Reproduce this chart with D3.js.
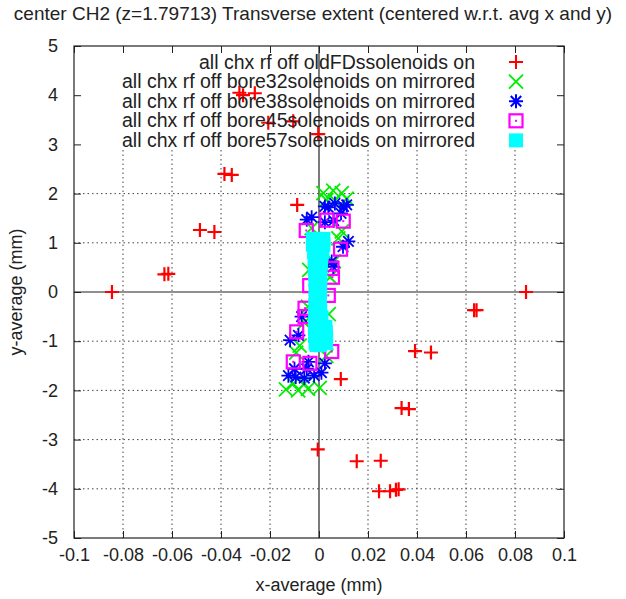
<!DOCTYPE html>
<html>
<head>
<meta charset="utf-8">
<script src="https://cdn.jsdelivr.net/npm/d3@7"></script>
<style>
  body { margin: 0; background: #fff; }
  text { font-family: "Liberation Sans", Arial, sans-serif; fill: #222; }
</style>
</head>
<body>
<div id="chart-area"></div>
<script>
// center CH2 transverse extent, gnuplot style scatter

var xTicks = [-0.1, -0.08, -0.06, -0.04, -0.02, 0, 0.02, 0.04, 0.06, 0.08, 0.1];
var xTickLabels = ["-0.1", "-0.08", "-0.06", "-0.04", "-0.02", "0", "0.02", "0.04", "0.06", "0.08", "0.1"];
var yTicks = [-5, -4, -3, -2, -1, 0, 1, 2, 3, 4, 5];

var seriesNames = [
  "all chx rf off oldFDssolenoids on",
  "all chx rf off bore32solenoids on mirrored",
  "all chx rf off bore38solenoids on mirrored",
  "all chx rf off bore45solenoids on mirrored",
  "all chx rf off bore57solenoids on mirrored"
];

// [x, y] in mm
var oldFD = [
  [-0.0845, 0.0], [-0.0631, 0.36], [-0.0615, 0.37], [-0.0486, 1.26], [-0.0427, 1.22],
  [-0.0386, 2.40], [-0.0356, 2.38], [-0.0325, 4.05], [-0.0310, 4.00], [-0.0262, 4.04],
  [-0.0207, 3.44], [-0.0105, 3.47], [-0.0003, 3.21], [-0.0089, 1.77],
  [0.0845, 0.0], [0.0633, -0.37], [0.0643, -0.37], [0.0392, -1.20], [0.0457, -1.23],
  [0.0089, -1.77], [0.0337, -2.36], [0.0367, -2.38], [-0.0005, -3.20],
  [0.0154, -3.44], [0.0252, -3.43], [0.0245, -4.05], [0.0290, -4.05], [0.0314, -4.02], [0.0325, -4.01]
];

var bore32 = [
  [0.0018, 2.01], [0.0058, 2.06], [0.0093, 2.01], [0.0113, 1.90], [0.0030, 1.87], [0.0065, 1.86],
  [0.0093, 1.23], [0.0079, 1.09], [0.0060, 0.62], [0.0045, 0.30], [-0.0040, 0.45], [-0.0030, 1.30],
  [-0.0135, -1.98], [-0.0085, -2.00], [-0.0045, -1.97], [0.0003, -1.95], [-0.0105, -1.86], [-0.0060, -1.86],
  [-0.0093, -1.23], [-0.0079, -1.09], [-0.0060, -0.62], [-0.0045, -0.30], [0.0040, -0.45], [0.0030, -1.30]
];

var bore38 = [
  [-0.0050, 1.47], [-0.0030, 1.52], [0.0024, 1.74], [0.0038, 1.72], [0.0065, 1.80], [0.0100, 1.74],
  [0.0113, 1.77], [0.0024, 1.42], [0.0060, 1.45], [0.0120, 1.03], [0.0098, 0.92], [0.0052, 0.62],
  [0.0058, 0.51], [0.0090, 1.60],
  [-0.0071, -0.50], [-0.0084, -0.88], [-0.0118, -0.98], [-0.0043, -1.42], [0.0024, -1.45],
  [-0.0125, -1.70], [-0.0095, -1.73], [-0.0060, -1.75], [-0.0020, -1.70], [0.0010, -1.64],
  [-0.0100, -1.56], [-0.0050, -1.56]
];

var bore45 = [
  [0.0099, 1.44], [0.0032, 1.46], [-0.0052, 1.25], [0.0088, 0.87], [0.0053, 0.48], [0.0055, 0.30],
  [-0.0038, 0.13], [0.0038, -0.07], [-0.0057, -0.33], [-0.0057, -0.50], [-0.0091, -0.81],
  [-0.0105, -1.42], [-0.0037, -1.45], [0.0052, -1.21]
];

var bore57 = [
  [-0.0027, 1.09], [0.0020, 1.09], [-0.0005, 1.02], [-0.0027, 0.95], [0.0020, 0.95],
  [-0.0022, 0.80], [0.0016, 0.80], [-0.0020, 0.65], [0.0010, 0.62], [-0.0019, 0.50],
  [0.0008, 0.45], [-0.0018, 0.35], [0.0007, 0.30], [-0.0016, 0.20], [0.0007, 0.15],
  [-0.0016, 0.05], [0.0006, 0.00], [-0.0016, -0.10], [0.0006, -0.15], [-0.0017, -0.25],
  [0.0007, -0.35], [-0.0018, -0.45], [0.0012, -0.50], [-0.0018, -0.60], [0.0028, -0.70],
  [-0.0018, -0.75], [0.0030, -0.80], [-0.0018, -0.90], [0.0031, -0.92], [-0.0016, -1.05],
  [0.0031, -1.05], [0.0005, -1.09], [-0.0012, -1.09]
];

var colors = ["#ff0000", "#00ee00", "#0000ff", "#ff00ff", "#00ffff"];

var margin = {top: 46, right: 62, bottom: 61, left: 74};
var width = 626 - margin.left - margin.right,
    height = 599 - margin.top - margin.bottom;

var x = d3.scaleLinear().domain([-0.1, 0.1]).range([0, width]);
var y = d3.scaleLinear().domain([-5, 5]).range([height, 0]);

var svg = d3.select("#chart-area").append("svg")
    .attr("width", 626)
    .attr("height", 599);

svg.append("text")
    .attr("x", 313)
    .attr("y", 20)
    .attr("text-anchor", "middle")
    .attr("font-size", "19px")
    .text("center CH2 (z=1.79713) Transverse extent (centered w.r.t. avg x and y)");

var g = svg.append("g")
    .attr("transform", "translate(" + margin.left + "," + margin.top + ")");

// key area hides the grid at the top
var keyBottom = 104;

// grid
g.selectAll(".vgrid").data(xTicks.filter(function(d){ return d != 0 && Math.abs(d) < 0.1; }))
  .enter().append("line")
    .attr("x1", function(d){ return x(d); })
    .attr("x2", function(d){ return x(d); })
    .attr("y1", keyBottom)
    .attr("y2", height)
    .attr("stroke", "#444")
    .attr("stroke-width", 1)
    .attr("stroke-dasharray", "1.5,3");

g.selectAll(".hgrid").data(yTicks.filter(function(d){ return d != 0 && Math.abs(d) < 5 && y(d) > keyBottom; }))
  .enter().append("line")
    .attr("x1", 0)
    .attr("x2", width)
    .attr("y1", function(d){ return y(d); })
    .attr("y2", function(d){ return y(d); })
    .attr("stroke", "#444")
    .attr("stroke-width", 1)
    .attr("stroke-dasharray", "1.5,3");

// zero axes
g.append("line").attr("x1", x(0)).attr("x2", x(0)).attr("y1", 0).attr("y2", height)
    .attr("stroke", "#222").attr("stroke-width", 1.2);
g.append("line").attr("x1", 0).attr("x2", width).attr("y1", y(0)).attr("y2", y(0))
    .attr("stroke", "#222").attr("stroke-width", 1.2);

// axes with inward ticks
var xAxisCall = d3.axisBottom(x).tickValues(xTicks)
    .tickFormat(function(d, i){ return xTickLabels[i]; })
    .tickSizeInner(-7).tickSizeOuter(0).tickPadding(10);
var xAxisGroup = g.append("g").attr("transform", "translate(0," + height + ")").call(xAxisCall);

var yAxisCall = d3.axisLeft(y).tickValues(yTicks)
    .tickFormat(function(d){ return d; })
    .tickSizeInner(-7).tickSizeOuter(0).tickPadding(16);
var yAxisGroup = g.append("g").call(yAxisCall);

g.append("g").attr("transform", "translate(0,0)")
    .call(d3.axisTop(x).tickValues(xTicks).tickFormat("").tickSizeInner(-7).tickSizeOuter(0));
g.append("g").attr("transform", "translate(" + width + ",0)")
    .call(d3.axisRight(y).tickValues(yTicks).tickFormat("").tickSizeInner(-7).tickSizeOuter(0));

g.selectAll(".domain").remove();
g.selectAll(".tick line").attr("stroke", "#222");
g.selectAll(".tick text").attr("font-size", "18px").attr("fill", "#222")
    .attr("font-family", "Liberation Sans, Arial, sans-serif");

g.append("rect")
    .attr("width", width).attr("height", height)
    .attr("fill", "none").attr("stroke", "#222").attr("stroke-width", 1.2);

// point shapes
var s = 7;
var shapes = [
  "M" + (-s) + ",0H" + s + "M0," + (-s) + "V" + s,
  "M" + (-s) + "," + (-s) + "L" + s + "," + s + "M" + (-s) + "," + s + "L" + s + "," + (-s),
  "M" + (-s) + ",0H" + s + "M0," + (-s) + "V" + s +
    "M" + (-s*0.75) + "," + (-s*0.75) + "L" + (s*0.75) + "," + (s*0.75) +
    "M" + (-s*0.75) + "," + (s*0.75) + "L" + (s*0.75) + "," + (-s*0.75)
];

function drawStroke(data, shape, color, width) {
  g.append("g").selectAll("path").data(data).enter().append("path")
    .attr("transform", function(d){ return "translate(" + x(d[0]) + "," + y(d[1]) + ")"; })
    .attr("d", shape)
    .attr("fill", "none")
    .attr("stroke", color)
    .attr("stroke-width", width);
}

drawStroke(oldFD, shapes[0], colors[0], 2.2);
drawStroke(bore32, shapes[1], colors[1], 1.8);
drawStroke(bore38, shapes[2], colors[2], 1.8);

var boxes = g.append("g").selectAll("g").data(bore45).enter().append("g")
    .attr("transform", function(d){ return "translate(" + x(d[0]) + "," + y(d[1]) + ")"; });
boxes.append("rect").attr("x", -6.5).attr("y", -6.5).attr("width", 13).attr("height", 13)
    .attr("fill", "none").attr("stroke", colors[3]).attr("stroke-width", 2.2);
boxes.append("rect").attr("x", -1).attr("y", -1).attr("width", 2).attr("height", 2)
    .attr("fill", colors[3]);

g.append("g").selectAll("rect").data(bore57).enter().append("rect")
    .attr("x", function(d){ return x(d[0]) - 6.5; })
    .attr("y", function(d){ return y(d[1]) - 6.5; })
    .attr("width", 13).attr("height", 13)
    .attr("fill", colors[4]);

// key
var keyX = 475 - margin.left, symX = 516 - margin.left;
var key = g.selectAll(".key").data(seriesNames).enter().append("g")
    .attr("transform", function(d, i){ return "translate(0," + (16 + i * 19.6) + ")"; });
key.append("text")
    .attr("x", keyX).attr("y", 6.5)
    .attr("text-anchor", "end")
    .attr("font-size", "19.5px")
    .text(function(d){ return d; });

key.filter(function(d, i){ return i < 3; }).append("path")
    .attr("transform", "translate(" + symX + ",0)")
    .attr("d", function(d, i){ return shapes[i]; })
    .attr("fill", "none")
    .attr("stroke", function(d, i){ return colors[i]; })
    .attr("stroke-width", 2);
key.filter(function(d, i){ return i == 3; }).append("rect")
    .attr("x", symX - 6.5).attr("y", -6.5).attr("width", 13).attr("height", 13)
    .attr("fill", "none").attr("stroke", colors[3]).attr("stroke-width", 2.2);
key.filter(function(d, i){ return i == 3; }).append("rect")
    .attr("x", symX - 1).attr("y", -1).attr("width", 2).attr("height", 2).attr("fill", colors[3]);
key.filter(function(d, i){ return i == 4; }).append("rect")
    .attr("x", symX - 7).attr("y", -7).attr("width", 14).attr("height", 14)
    .attr("fill", colors[4]);

// axis labels
svg.append("text")
    .attr("x", margin.left + width / 2)
    .attr("y", 591)
    .attr("text-anchor", "middle")
    .attr("font-size", "18px")
    .text("x-average (mm)");

svg.append("text")
    .attr("transform", "translate(22," + (margin.top + height / 2) + ") rotate(-90)")
    .attr("text-anchor", "middle")
    .attr("font-size", "18px")
    .text("y-average (mm)");
</script>
</body>
</html>
